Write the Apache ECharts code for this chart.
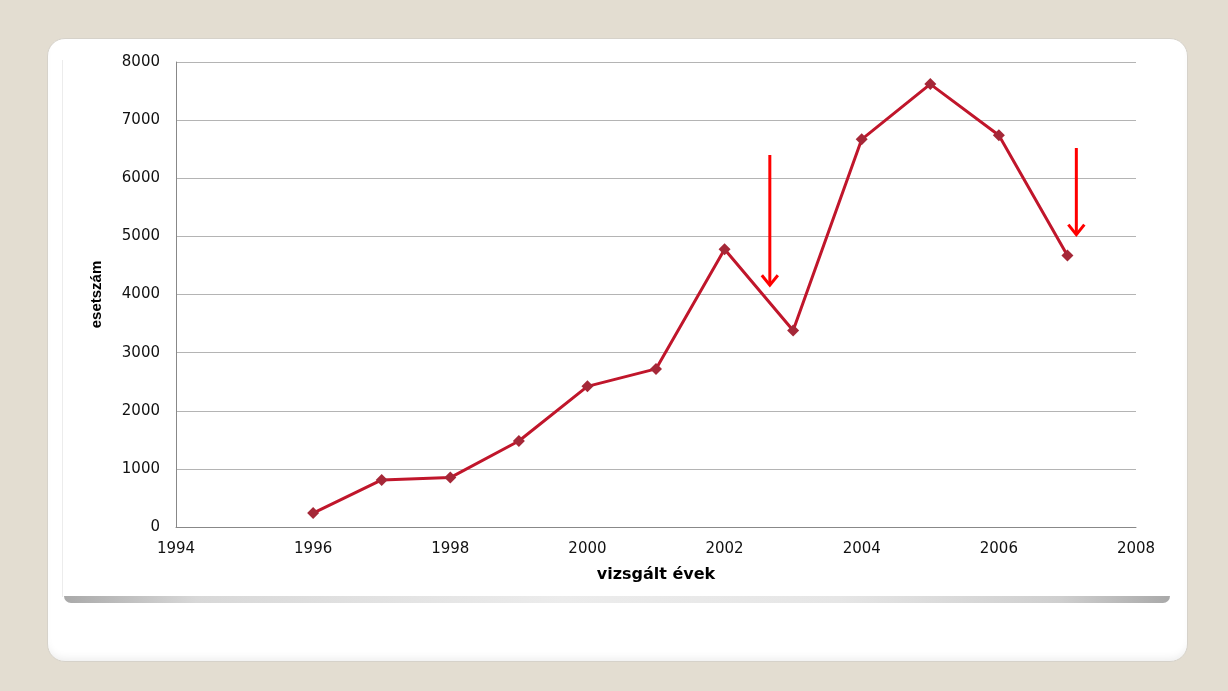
<!DOCTYPE html>
<html><head><meta charset="utf-8">
<script src="https://cdn.jsdelivr.net/npm/echarts@6/dist/echarts.min.js"></script>
<style>
html,body{margin:0;padding:0;width:1228px;height:691px;background:#e3ddd1;overflow:hidden;}
#panel{position:absolute;left:47px;top:38px;width:1141px;height:624px;background:#fff;border-radius:18px;border:1px solid #d6d2ca;box-sizing:border-box;box-shadow:inset 0 -6px 8px -4px rgba(0,0,0,0.08);}
#leftline{position:absolute;left:62px;top:60px;width:1px;height:537px;background:#ececec;}
#bar{position:absolute;left:64px;top:596px;width:1106px;height:7px;border-radius:0 0 14px 14px;background:linear-gradient(to right,#a9a9a9 0%,#d8d8d8 12%,#ececec 45%,#e6e6e6 70%,#cfcfcf 90%,#a9a9a9 100%);}
#chart{position:absolute;left:0;top:0;width:1228px;height:691px;}
</style></head>
<body>
<div id="panel"></div><div id="leftline"></div><div id="bar"></div>
<div id="chart"></div>
<script>
const years = [1996,1997,1998,1999,2000,2001,2002,2003,2004,2005,2006,2007];
const cases = [240,810,850,1480,2420,2720,4780,3380,6670,7620,6740,4670];
const xTicks = [1994,1996,1998,2000,2002,2004,2006,2008];
const yTicks = [0,1000,2000,3000,4000,5000,6000,7000,8000];
// annotation arrows: [x, yTop, yBottom]
const arrows = [[2002.66,6400,4160],[2007.13,6520,5030]];

const chart = echarts.init(document.getElementById('chart'));
const font = 'DejaVu Sans, Verdana, sans-serif';
chart.setOption({
  backgroundColor:'transparent',
  animation:false,
  grid:{left:176,right:92,top:62,bottom:164},
  xAxis:{type:'value',min:xTicks[0],max:xTicks[xTicks.length-1],interval:2,
    name:'vizsgált évek',nameLocation:'middle',nameGap:40,
    nameTextStyle:{fontFamily:font,fontWeight:'bold',fontSize:16,color:'#000'},
    axisLine:{show:true,lineStyle:{color:'#888',width:1}},
    axisTick:{show:false},splitLine:{show:false},
    axisLabel:{fontFamily:font,fontSize:15,color:'#111',margin:15,formatter:v=>String(v)}},
  yAxis:{type:'value',min:yTicks[0],max:yTicks[yTicks.length-1],interval:1000,
    name:'esetszám',nameLocation:'middle',nameGap:72,nameRotate:90,
    nameTextStyle:{fontFamily:'Liberation Sans, Arial, sans-serif',fontWeight:'bold',fontSize:15,color:'#000'},
    axisLine:{show:true,lineStyle:{color:'#888',width:1}},
    axisTick:{show:false},
    splitLine:{show:true,lineStyle:{color:'#b4b4b4',width:1}},
    axisLabel:{fontFamily:font,fontSize:15,color:'#111',margin:16,formatter:v=>String(v)}},
  series:[
    {type:'line',data:years.map((y,i)=>[y,cases[i]]),
     lineStyle:{color:'#c0162b',width:3},
     symbol:'diamond',symbolSize:12,itemStyle:{color:'#a52838'},z:3},
    {type:'custom',data:arrows,z:4,
     renderItem:function(params,api){
       const top=api.coord([api.value(0),api.value(1)]);
       const bot=api.coord([api.value(0),api.value(2)]);
       return {type:'group',children:[
         {type:'line',shape:{x1:top[0],y1:top[1],x2:bot[0],y2:bot[1]},style:{stroke:'#ff0000',lineWidth:3}},
         {type:'polyline',shape:{points:[[bot[0]-8,bot[1]-10],[bot[0],bot[1]],[bot[0]+8,bot[1]-10]]},style:{stroke:'#ff0000',lineWidth:3,fill:null}}
       ]};
     }}
  ]
});
</script>
</body></html>
